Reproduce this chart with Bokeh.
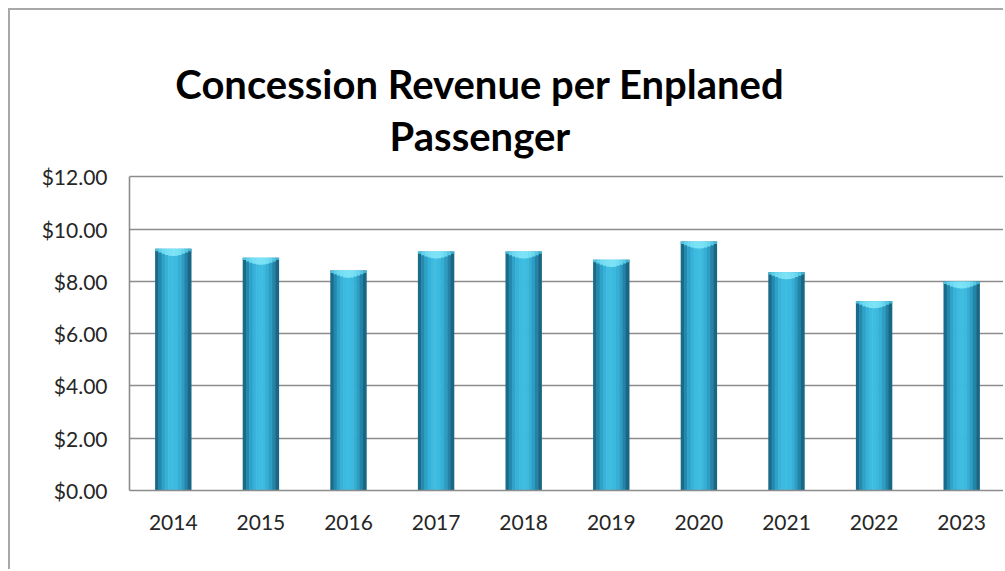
from bokeh.plotting import figure
from bokeh.models import ColumnDataSource, NumeralTickFormatter, FixedTicker, Label, FactorRange, Range1d
from bokeh.transform import dodge
from bokeh.embed import file_html
from bokeh.resources import INLINE
import numpy as np

# ---- data ----
years = ["2014", "2015", "2016", "2017", "2018", "2019", "2020", "2021", "2022", "2023"]
revenue = [9.24, 8.90, 8.41, 9.14, 9.14, 8.82, 9.52, 8.35, 7.24, 7.99]
y_ticks = [0, 2, 4, 6, 8, 10, 12]
title_lines = ["Concession Revenue per Enplaned", "Passenger"]

FONT = "Lato"
PX_PER_UNIT = 26.15          # vertical scale of the reference
FRAME_BOTTOM = 480           # canvas px

p = figure(width=995, height=561, x_range=FactorRange(*years, range_padding=0),
           y_range=Range1d(0, FRAME_BOTTOM / PX_PER_UNIT), output_backend="svg", toolbar_location=None,
           min_border_left=119, min_border_right=0, min_border_top=0, min_border_bottom=561 - FRAME_BOTTOM)
p.styles = {"margin-left": "8px", "margin-top": "8px",
            "border-left": "2px solid #a8a8a8", "border-top": "2px solid #a8a8a8"}
p.outline_line_color = None
p.background_fill_color = "white"
p.border_fill_color = "white"

src = ColumnDataSource(dict(year=years, value=revenue))

# cylindrical bar: vertical strips with a colour profile
bar_w = 0.41
strip_cols = ["#1a6b89", "#238aae", "#2ea2c9", "#37b1d8", "#3cbadf", "#3ebde1",
              "#3cb9de", "#36afd5", "#2d9dc3", "#2384a8", "#1a6785"]
n = len(strip_cols)
sw = bar_w / n
cap_h = [0.09, 0.14, 0.19, 0.23, 0.26, 0.27, 0.26, 0.23, 0.19, 0.14, 0.09]
cap_cols = ["#4cc2dd", "#60d1ea", "#6edaf1", "#76dff4", "#7be2f6", "#7de3f7",
            "#7be2f6", "#74def3", "#68d6ee", "#57c9e4", "#43b5d2"]
vals = np.array(revenue)
for i in range(n):
    off = -bar_w / 2 + (i + 0.5) * sw
    p.vbar(x=dodge("year", off, range=p.x_range), top="value", bottom=0,
           width=sw * 1.15, source=src, fill_color=strip_cols[i], line_color=None)
for i in range(n):
    off = -bar_w / 2 + (i + 0.5) * sw
    csrc = ColumnDataSource(dict(year=years, value=revenue, low=list(vals - cap_h[i])))
    p.vbar(x=dodge("year", off, range=p.x_range), top="value", bottom="low",
           width=sw * 1.15, source=csrc, fill_color=cap_cols[i], line_color=None)

# grid & axes
p.xgrid.grid_line_color = None
p.ygrid.ticker = FixedTicker(ticks=y_ticks)
p.ygrid.grid_line_color = "#8c8c8c"
p.ygrid.grid_line_width = 1.6
p.ygrid.level = "underlay"
p.yaxis.ticker = FixedTicker(ticks=y_ticks)
p.yaxis.bounds = (y_ticks[0], y_ticks[-1])
p.yaxis.formatter = NumeralTickFormatter(format="$0.00")
for ax in (p.xaxis, p.yaxis):
    ax.axis_line_color = "#8c8c8c"
    ax.axis_line_width = 1.6
    ax.major_tick_line_color = None
    ax.minor_tick_line_color = None
    ax.major_tick_out = 0
    ax.major_tick_in = 0
    ax.minor_tick_out = 0
    ax.major_label_text_font = FONT
    ax.major_label_text_font_size = "21px"
    ax.major_label_text_color = "#262626"
p.yaxis.major_label_standoff = 22
p.xaxis.major_label_standoff = 24

# title (two centred lines, above the $12 gridline)
for txt, yy in zip(title_lines, [15.55, 13.55]):
    p.add_layout(Label(x=4.0, y=yy, text=txt, text_align="center", text_baseline="alphabetic",
                       text_font=FONT, text_font_style="bold", text_font_size="40px",
                       text_color="#000000"))

open("out.html", "w").write(file_html(p, INLINE))
